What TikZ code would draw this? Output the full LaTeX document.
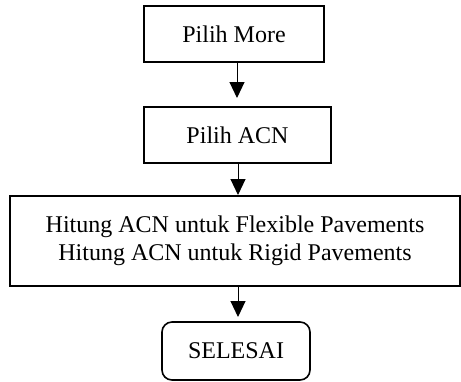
\documentclass[tikz,border=0pt]{standalone}
\usepackage{fontspec}
\setmainfont{Liberation Serif}
\usetikzlibrary{arrows.meta}
\tikzset{
  box/.style={draw, line width=1.6bp, inner sep=0pt, align=center,
    font=\fontsize{24bp}{28bp}\selectfont},
  endbox/.style={box, rounded corners=10bp},
  arr/.style={line width=1bp, -{Triangle[length=16bp,width=15bp]}}
}
\begin{document}
\begin{tikzpicture}[x=1bp, y=-1bp]
  \useasboundingbox (0,0) rectangle (461,381);
  % process steps
  \node[box, minimum width=180bp, minimum height=56bp] (more) at (234,34) {Pilih More};
  \node[box, minimum width=187bp, minimum height=56bp] (acn) at (237.5,135) {Pilih ACN};
  \node[box, minimum width=450bp, minimum height=90bp] (hitung) at (235,241)
    {Hitung ACN untuk Flexible Pavements\\Hitung ACN untuk Rigid Pavements};
  \node[endbox, minimum width=148bp, minimum height=58bp] (selesai) at (236,351) {SELESAI};
  % arrow tips
  \coordinate (t1) at (237,98);
  \coordinate (t2) at (238,195);
  \coordinate (t3) at (238,317);
  % connectors
  \draw[arr] (more.south -| t1) -- (t1);
  \draw[arr] (acn.south -| t2) -- (t2);
  \draw[arr] (hitung.south -| t3) -- (t3);
\end{tikzpicture}
\end{document}
